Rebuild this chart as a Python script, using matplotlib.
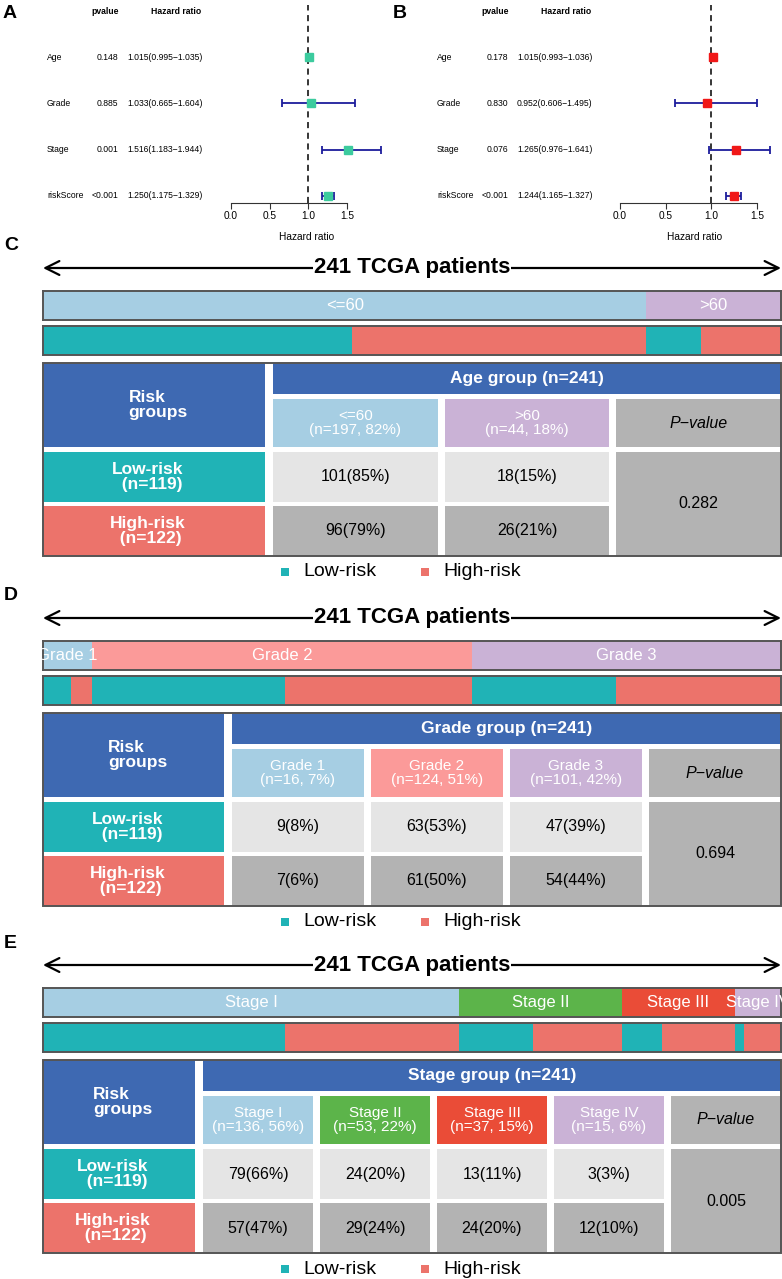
import matplotlib
matplotlib.use('Agg')
import matplotlib.pyplot as plt
from matplotlib.patches import Rectangle
from matplotlib.transforms import blended_transform_factory

plt.rcParams['font.family'] = ['Liberation Sans', 'DejaVu Sans']

W, H = 782, 1279

# ---------------- forest plot data ----------------
variables = ['Age', 'Grade', 'Stage', 'riskScore']

uni_pvalue = ['0.148', '0.885', '0.001', '<0.001']
uni_hr = [1.015, 1.033, 1.516, 1.250]
uni_low = [0.995, 0.665, 1.183, 1.175]
uni_high = [1.035, 1.604, 1.944, 1.329]

multi_pvalue = ['0.178', '0.830', '0.076', '<0.001']
multi_hr = [1.015, 0.952, 1.265, 1.244]
multi_low = [0.993, 0.606, 0.976, 1.165]
multi_high = [1.036, 1.495, 1.641, 1.327]

# ---------------- clinical groups data ----------------
age_groups = ['<=60', '>60']
age_pct = [82, 18]
age_low = [101, 18]
age_high = [96, 26]
age_low_pct = [85, 15]
age_high_pct = [79, 21]
age_pvalue = '0.282'

grade_groups = ['Grade 1', 'Grade 2', 'Grade 3']
grade_pct = [7, 51, 42]
grade_low = [9, 63, 47]
grade_high = [7, 61, 54]
grade_low_pct = [8, 53, 39]
grade_high_pct = [6, 50, 44]
grade_pvalue = '0.694'

stage_groups = ['Stage I', 'Stage II', 'Stage III', 'Stage IV']
stage_pct = [56, 22, 15, 6]
stage_low = [79, 24, 13, 3]
stage_high = [57, 29, 24, 12]
stage_low_pct = [66, 20, 11, 3]
stage_high_pct = [47, 24, 20, 10]
stage_pvalue = '0.005'

# colours
TEAL = '#20B3B6'
SALMON = '#EC736B'
BLUE = '#3E69B2'
LIGHT = '#E5E5E5'
GREY = '#B3B3B3'
BORDER = '#555555'
age_colors = ['#A6CEE3', '#CAB2D6']
grade_colors = ['#A6CEE3', '#FB9A99', '#CAB2D6']
stage_colors = ['#A6CEE3', '#5CB44A', '#EA4C37', '#CAB2D6']

fig = plt.figure(figsize=(W / 100, H / 100), dpi=100)

# canvas axes in pixel coordinates for layout text / table
canvas = fig.add_axes([0, 0, 1, 1])
canvas.set_xlim(0, W)
canvas.set_ylim(H, 0)
canvas.axis('off')


def px_rect(x0, y0, x1, y1):
    return [x0 / W, 1 - y1 / H, (x1 - x0) / W, (y1 - y0) / H]


########################################
#          Forest plots (A, B)
########################################
ROW0, ROWSTEP = 57, 46.3


def forest(letter, x_off, x_zero, px_per, ax_x1, pvals, hr, lo, hi, box_color):
    ax_x0 = x_zero - 10
    ax = fig.add_axes(px_rect(ax_x0, 5, ax_x1, 203))
    ax.set_xlim((ax_x0 - x_zero) / px_per, (ax_x1 - x_zero) / px_per)
    y_bottom = 1 - (203 - (ROW0 + 3 * ROWSTEP)) / ROWSTEP
    y_top = 4 + (ROW0 - 5) / ROWSTEP
    ax.set_ylim(y_bottom, y_top)
    ypos = [4, 3, 2, 1]
    ax.axvline(1, color='black', ls=(0, (4, 3)), lw=1.1, zorder=1)
    xerr = [[h - l for h, l in zip(hr, lo)], [u - h for h, u in zip(hr, hi)]]
    ax.errorbar(hr, ypos, xerr=xerr, fmt='s', color=box_color, ms=5.5,
                ecolor='#1C1C9C', elinewidth=1.3, capsize=3, capthick=1.3, zorder=3)
    for s in ['top', 'right', 'left']:
        ax.spines[s].set_visible(False)
    ax.spines['bottom'].set_bounds(0, 1.5)
    ax.spines['bottom'].set_color('#333333')
    ax.spines['bottom'].set_linewidth(0.8)
    ax.set_xticks([0, 0.5, 1.0, 1.5])
    ax.set_xticklabels(['0.0', '0.5', '1.0', '1.5'], fontsize=7.3)
    ax.tick_params(axis='x', length=4, width=0.8, pad=1.5, color='#333333')
    ax.set_yticks([])
    ax.patch.set_alpha(0)

    tr = blended_transform_factory(canvas.transData, ax.transData)
    for y, name, p, h, l, u in zip(ypos, variables, pvals, hr, lo, hi):
        ax.text(x_off + 47, y, name, transform=tr, fontsize=6.2, ha='left', va='center')
        ax.text(x_off + 118, y, p, transform=tr, fontsize=6.2, ha='right', va='center')
        ax.text(x_off + 127, y, f'{h:.3f}({l:.3f}\u2212{u:.3f})', transform=tr,
                fontsize=6.2, ha='left', va='center')
    canvas.text(x_off + 119, 12, 'pvalue', fontsize=6.2, fontweight='bold', ha='right', va='center')
    canvas.text(x_off + 201, 12, 'Hazard ratio', fontsize=6.2, fontweight='bold', ha='right', va='center')
    canvas.text(x_off + 3, 13, letter, fontsize=14, fontweight='bold', ha='left', va='center')
    return ax


forest('A', 0, 231, 77.33, 390, uni_pvalue, uni_hr, uni_low, uni_high, '#3CCB9E')
forest('B', 390, 620, 91.33, 781, multi_pvalue, multi_hr, multi_low, multi_high, '#F01818')
canvas.text(307, 237, 'Hazard ratio', fontsize=7.3, ha='center', va='center')
canvas.text(695, 237, 'Hazard ratio', fontsize=7.3, ha='center', va='center')


########################################
#      Clinical group panels (C, D, E)
########################################
LEFT, RIGHT = 43, 781


def cell(x, y, w, h, color, text, tcolor='black', size=11, weight='normal',
         style='normal', ls=1.0, ma='center', dx=0):
    canvas.add_patch(Rectangle((x, y), w, h, facecolor=color, edgecolor='none', zorder=2))
    canvas.text(x + w / 2 + dx, y + h / 2, text, color=tcolor, fontsize=size,
                fontweight=weight, style=style, ha='center', va='center',
                linespacing=ls, multialignment=ma, zorder=3)


def panel(letter, ay, first_w, title, groups, colors, pct, low, high,
          low_pct, high_pct, pvalue):
    total = sum(low) + sum(high)
    n_group = [a + b for a, b in zip(low, high)]

    canvas.text(4, ay - 22, letter, fontsize=14, fontweight='bold', ha='left', va='center')
    canvas.annotate('', xy=(LEFT, ay), xytext=(RIGHT, ay),
                    arrowprops=dict(arrowstyle='<->', lw=1.6, color='black',
                                    mutation_scale=25, shrinkA=0, shrinkB=0))
    canvas.text((LEFT + RIGHT) / 2, ay, f'{total} TCGA patients', fontsize=16,
                fontweight='bold', ha='center', va='center',
                bbox=dict(facecolor='white', edgecolor='none', pad=0.5))

    # group strip
    ax1 = fig.add_axes(px_rect(LEFT, ay + 23, RIGHT, ay + 52))
    lefts = [sum(n_group[:i]) for i in range(len(n_group))]
    bars = ax1.barh(0, n_group, left=lefts, height=1, color=colors, edgecolor='none')
    for b, lab in zip(bars, groups):
        t = ax1.text(b.get_x() + b.get_width() / 2, 0, lab, color='white',
                     fontsize=12, ha='center', va='center')
        t.set_clip_path(b)

    # risk strip
    ax2 = fig.add_axes(px_rect(LEFT, ay + 58, RIGHT, ay + 87))
    seg_n, seg_c = [], []
    for a, b in zip(low, high):
        seg_n += [a, b]
        seg_c += [TEAL, SALMON]
    seg_left = [sum(seg_n[:i]) for i in range(len(seg_n))]
    ax2.barh(0, seg_n, left=seg_left, height=1, color=seg_c, edgecolor='none')

    for ax in (ax1, ax2):
        ax.set_xlim(0, total)
        ax.set_ylim(-0.5, 0.5)
        ax.set_xticks([])
        ax.set_yticks([])
        for s in ax.spines.values():
            s.set_color(BORDER)
            s.set_linewidth(1.4)

    # table
    top = ay + 95
    head_h, sub_h, row_h = 31, 48, 50
    y_sub = top + head_h + 5
    y_low = y_sub + sub_h + 5
    y_high = y_low + row_h + 4
    bottom = y_high + row_h
    x_data = LEFT + first_w + 8
    ncol = len(groups) + 1
    gap = 7
    col_w = (RIGHT - x_data - gap * (ncol - 1)) / ncol

    cell(LEFT, top, first_w, y_sub + sub_h - top, BLUE, 'Risk\ngroups', 'white',
         12.5, 'bold', ls=1.05, ma='left', dx=4)
    cell(LEFT, y_low, first_w, row_h, TEAL, f'Low-risk\n  (n={sum(low)})', 'white',
         12.5, 'bold', ls=1.05, ma='left', dx=-6)
    cell(LEFT, y_high, first_w, row_h, SALMON, f'High-risk\n  (n={sum(high)})', 'white',
         12.5, 'bold', ls=1.05, ma='left', dx=-6)
    cell(x_data, top, RIGHT - x_data, head_h, BLUE, title, 'white', 12.5, 'bold')
    for j, lab in enumerate(groups):
        cx = x_data + j * (col_w + gap)
        cell(cx, y_sub, col_w, sub_h, colors[j], f'{lab}\n(n={n_group[j]}, {pct[j]}%)',
             'white', 11, ls=1.0)
        cell(cx, y_low, col_w, row_h, LIGHT, f'{low[j]}({low_pct[j]}%)', size=11.5)
        cell(cx, y_high, col_w, row_h, GREY, f'{high[j]}({high_pct[j]}%)', size=11.5)
    cx = x_data + (ncol - 1) * (col_w + gap)
    cell(cx, y_sub, RIGHT - cx, sub_h, GREY, 'P\u2212value', size=11.5, style='italic')
    cell(cx, y_low, RIGHT - cx, bottom - y_low, GREY, pvalue, size=11.5)
    canvas.add_patch(Rectangle((LEFT, top), RIGHT - LEFT, bottom - top, fill=False,
                               edgecolor=BORDER, lw=1.4, zorder=4))

    # legend
    ly = bottom + 16
    canvas.add_patch(Rectangle((281, ly - 4), 8, 8, facecolor=TEAL, edgecolor='none'))
    canvas.text(303, ly, 'Low-risk', fontsize=14, ha='left', va='center')
    canvas.add_patch(Rectangle((421, ly - 4), 8, 8, facecolor=SALMON, edgecolor='none'))
    canvas.text(443, ly, 'High-risk', fontsize=14, ha='left', va='center')


panel('C', 268, 222, f'Age group (n={sum(age_low) + sum(age_high)})', age_groups,
      age_colors, age_pct, age_low, age_high, age_low_pct, age_high_pct, age_pvalue)
panel('D', 618, 181, f'Grade group (n={sum(grade_low) + sum(grade_high)})', grade_groups,
      grade_colors, grade_pct, grade_low, grade_high, grade_low_pct, grade_high_pct,
      grade_pvalue)
panel('E', 965, 152, f'Stage group (n={sum(stage_low) + sum(stage_high)})', stage_groups,
      stage_colors, stage_pct, stage_low, stage_high, stage_low_pct, stage_high_pct,
      stage_pvalue)

fig.savefig('out.png', dpi=100)
